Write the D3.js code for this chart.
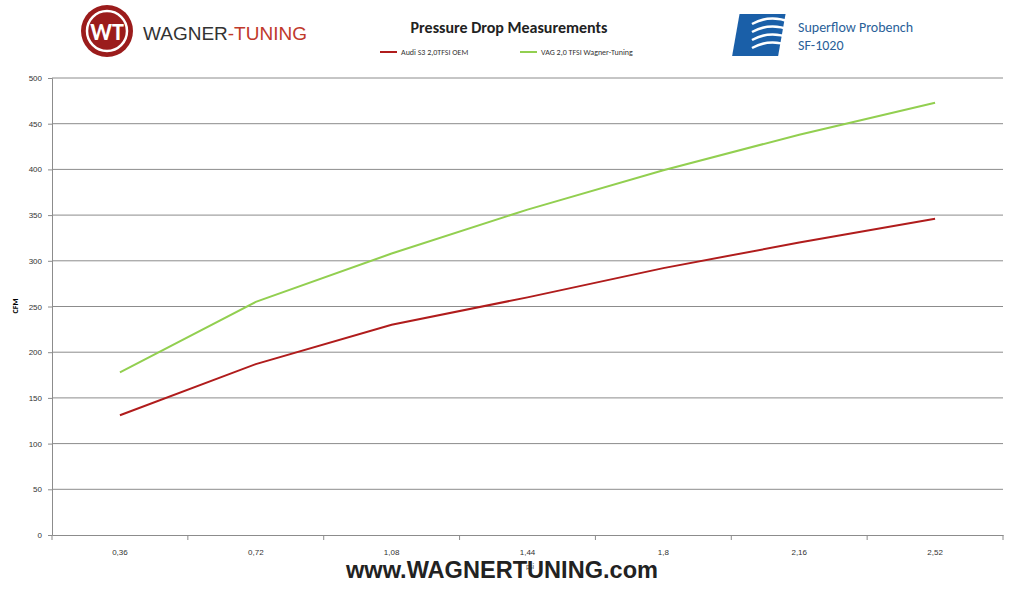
<!DOCTYPE html><html><head><meta charset="utf-8">
<script src="https://cdn.jsdelivr.net/npm/d3@7"></script>
<style>body{margin:0;background:#fff}svg{font-family:Calibri,Carlito,"Liberation Sans",Arial,sans-serif}</style></head><body>
<svg id="c" width="1019" height="589"></svg>
<script>
const categories=["0,36","0,72","1,08","1,44","1,8","2,16","2,52"];
const oem=[131,187,230,260,292,320,346];
const wagner=[178,255,308,356,399,438,473];
const yTicks=[0,50,100,150,200,250,300,350,400,450,500];
const svg=d3.select("#c");
const L=52,R=1003,T=78,B=535;
const x=d3.scaleBand().domain(categories).range([L,R]);
const y=d3.scaleLinear().domain([0,500]).range([B,T]);
svg.append("g").selectAll("line").data(yTicks.slice(1)).join("line")
 .attr("x1",L).attr("x2",R).attr("y1",d=>y(d)).attr("y2",d=>y(d)).attr("stroke","#8c8c8c").attr("stroke-width",1);
const ya=svg.append("g").attr("transform",`translate(${L},0)`).call(d3.axisLeft(y).tickValues(yTicks).tickSize(4).tickPadding(6));
ya.selectAll("text").attr("font-size",8).attr("fill","#333");
ya.selectAll("line,path").attr("stroke","#8c8c8c");
const xa=svg.append("g").attr("transform",`translate(0,${B})`).call(d3.axisBottom(x).tickSize(0).tickPadding(14));
xa.selectAll("text").attr("font-size",8).attr("fill","#333");
xa.select("path").attr("stroke","#8c8c8c");
xa.selectAll(".sep").data(d3.range(8)).join("line").attr("x1",i=>L+i*x.step()).attr("x2",i=>L+i*x.step()).attr("y1",0).attr("y2",5).attr("stroke","#8c8c8c");
const line=d3.line().x((d,i)=>x(categories[i])+x.bandwidth()/2).y(d=>y(d));
svg.append("path").datum(oem).attr("d",line).attr("fill","none").attr("stroke","#b01c1c").attr("stroke-width",2);
svg.append("path").datum(wagner).attr("d",line).attr("fill","none").attr("stroke","#92cf50").attr("stroke-width",2);
svg.append("text").attr("x",18).attr("y",306).attr("transform","rotate(-90,18,306)").attr("text-anchor","middle").attr("font-size",8).attr("font-weight","bold").text("CFM");
svg.append("text").attr("x",509).attr("y",33).attr("text-anchor","middle").attr("font-size",16).attr("font-weight","bold").attr("fill","#222").text("Pressure Drop Measurements");
const leg=[["Audi S3 2,0TFSI OEM","#b01c1c",380],["VAG 2,0 TFSI  Wagner-Tuning","#92cf50",520]];
leg.forEach(([t,c,lx])=>{svg.append("line").attr("x1",lx).attr("x2",lx+17).attr("y1",52).attr("y2",52).attr("stroke",c).attr("stroke-width",2);
svg.append("text").attr("x",lx+21).attr("y",55).attr("font-size",8).attr("fill","#333").text(t);});
svg.append("circle").attr("cx",107).attr("cy",31).attr("r",26).attr("fill","#9b1c1c");
svg.append("circle").attr("cx",107).attr("cy",31).attr("r",20).attr("fill","none").attr("stroke","#fff").attr("stroke-width",2.5);
svg.append("text").attr("x",107).attr("y",40).attr("text-anchor","middle").attr("font-size",24).attr("font-weight","bold").attr("fill","#fff").text("WT");
const wt=svg.append("text").attr("x",143).attr("y",40).attr("font-size",19).attr("font-family","'Liberation Sans',Arial");
wt.append("tspan").attr("fill","#333").text("WAGNER");wt.append("tspan").attr("fill","#c0392b").text("-TUNING");
svg.append("rect").attr("x",742).attr("y",14).attr("width",46).attr("height",42).attr("fill","#1a5fa8").attr("transform","skewX(-10)");
[0,8,16,24].forEach(o=>svg.append("path").attr("d",`M752,${24+o} Q770,${14+o} 790,${22+o}`).attr("fill","none").attr("stroke","#fff").attr("stroke-width",2.5));
svg.append("text").attr("x",798).attr("y",32).attr("font-size",14).attr("fill","#2a5f99").text("Superflow Probench");
svg.append("text").attr("x",798).attr("y",50).attr("font-size",14).attr("fill","#2a5f99").text("SF-1020");
svg.append("text").attr("x",530).attr("y",569).attr("text-anchor","middle").attr("font-size",7).attr("fill","#555").text("psi");
svg.append("text").attr("x",502).attr("y",578).attr("text-anchor","middle").attr("font-size",24).attr("font-weight","bold").attr("font-family","'Liberation Sans',Arial").attr("fill","#222").attr("textLength",312).attr("lengthAdjust","spacingAndGlyphs").text("www.WAGNERTUNING.com");
</script></body></html>
